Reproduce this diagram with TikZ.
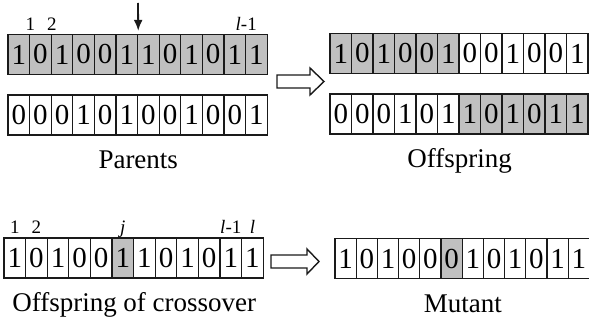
\documentclass[tikz,border=0pt]{standalone}
\usepackage{fontspec}
\setmainfont{Liberation Serif}
\usetikzlibrary{positioning,arrows.meta}
\definecolor{cellgray}{HTML}{C0C0C0}
\definecolor{ink}{HTML}{1A1A1A}

\begin{document}
\begin{tikzpicture}[x=1pt, y=-1pt,
  bit/.style={draw=ink, line width=1.3pt, minimum width=21.6pt, minimum height=40pt, inner sep=0pt, font=\fontsize{29}{29}\selectfont},
  idx/.style={inner sep=0pt, text height=13pt, text depth=0pt, font=\fontsize{19}{19}\selectfont},
  caption/.style={inner sep=0pt, text height=18pt, text depth=0pt, font=\fontsize{27}{27}\selectfont},
  blockarrow/.style={draw=ink, line width=1.4pt, fill=white}]
\useasboundingbox (0,0) rectangle (589,320);

% parents
\foreach \b [count=\i] in {1,0,1,0,0,1,1,0,1,0,1,1}
  \node[bit, fill=cellgray] (pa\i) at (8+21.6*\i-10.8, 54.5) {\b};
\foreach \b [count=\i] in {0,0,0,1,0,1,0,0,1,0,0,1}
  \node[bit] (pb\i) at (8+21.6*\i-10.8, 115) {\b};
\node[idx, above=3pt of pa1.north east] (pi1) {1};
\node[idx, above=3pt of pa2.north east] (pi2) {2};
\node[idx, above=3pt of pa11.north east] (pil) {\textit{l}-1};
\coordinate (cut) at (138,3);
\draw[-{Latex[length=11pt,width=9pt]}, line width=1.8pt, draw=ink] (cut) -- ([yshift=3pt]pa6.north east);
\node[caption, below=15pt of pb6.south east] (parents) {Parents};

% offspring
\foreach \b [count=\i] in {1,0,1,0,0,1,0,0,1,0,0,1}
  {\ifnum\i<7 \def\sh{cellgray}\else\def\sh{white}\fi
   \node[bit, minimum width=21.5pt, fill=\sh] (oa\i) at (330+21.5*\i-10.75, 53.5) {\b};}
\foreach \b [count=\i] in {0,0,0,1,0,1,1,0,1,0,1,1}
  {\ifnum\i<7 \def\sh{white}\else\def\sh{cellgray}\fi
   \node[bit, minimum width=21.5pt, fill=\sh] (ob\i) at (330+21.5*\i-10.75, 114) {\b};}
\node[caption, below=15pt of ob6.south east] (offspring) {Offspring};
\draw[blockarrow] (277,75) -- (310,75) -- (310,68) -- (324,81.5) -- (310,95) -- (310,88) -- (277,88) -- cycle;

% mutation
\foreach \b [count=\i] in {1,0,1,0,0,1,1,0,1,0,1,1}
  {\ifnum\i=6 \def\sh{cellgray}\else\def\sh{white}\fi
   \node[bit, fill=\sh] (xo\i) at (4+21.6*\i-10.8, 258) {\b};}
\node[idx, above=4pt of xo1.north] (xi1) {1};
\node[idx, above=4pt of xo2.north] (xi2) {2};
\node[idx, above=4pt of xo6.north] (xij) {\textit{j}};
\node[idx, above=4pt of xo11.north] (xil1) {\textit{l}-1};
\node[idx, above=4pt of xo12.north] (xil) {\textit{l}};
\node[caption, below=15pt of xo6.south east] (crossover) {Offspring of crossover};
\foreach \b [count=\i] in {1,0,1,0,0,0,1,0,1,0,1,1}
  {\ifnum\i=6 \def\sh{cellgray}\else\def\sh{white}\fi
   \node[bit, minimum width=21.2pt, fill=\sh] (mu\i) at (335+21.2*\i-10.6, 258.5) {\b};}
\node[caption, below=15pt of mu6.south east] (mutant) {Mutant};
\draw[blockarrow] (271,255) -- (307,255) -- (307,249) -- (319,261.5) -- (307,274) -- (307,268) -- (271,268) -- cycle;
\end{tikzpicture}
\end{document}
